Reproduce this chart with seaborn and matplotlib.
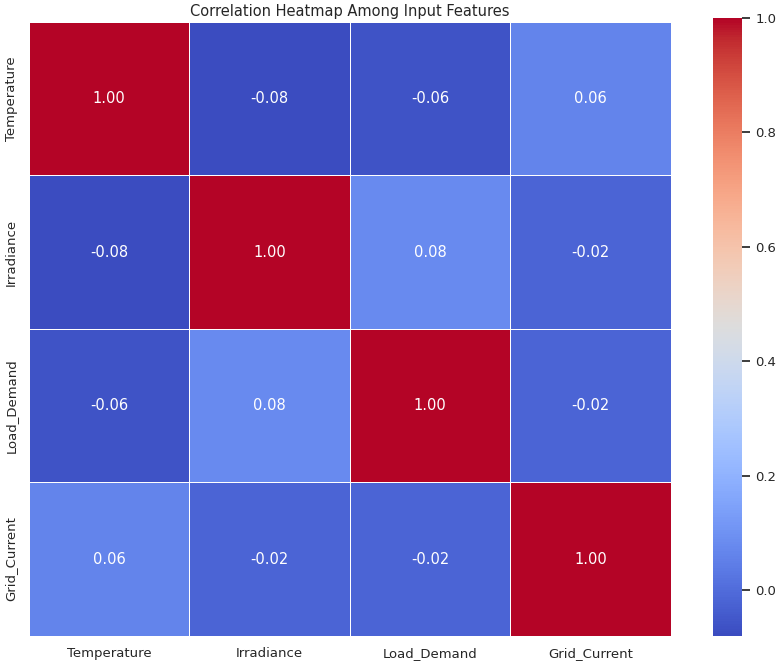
import numpy as np
import pandas as pd
import matplotlib
matplotlib.use('Agg')
import matplotlib.pyplot as plt
import seaborn as sns

# 特征名与相关系数
features = ['Temperature', 'Irradiance', 'Load_Demand', 'Grid_Current']
row_temperature = [1.00, -0.08, -0.06, 0.06]
row_irradiance = [-0.08, 1.00, 0.08, -0.02]
row_load = [-0.06, 0.08, 1.00, -0.02]
row_grid = [0.06, -0.02, -0.02, 1.00]

sns.set_theme(style='white')
plt.rcParams['font.family'] = ['DejaVu Sans']

corr = pd.DataFrame([row_temperature, row_irradiance, row_load, row_grid],
                    index=features, columns=features)

fig = plt.figure(figsize=(7.78, 6.65), dpi=100)
ax = fig.add_axes([0.037, 0.044, 0.825, 0.923])
cax = fig.add_axes([0.916, 0.044, 0.038, 0.929])

sns.heatmap(corr, annot=True, fmt='.2f', cmap='coolwarm', linewidths=0.5,
            linecolor='white', ax=ax, cbar_ax=cax,
            annot_kws={'fontsize': 10.5})

ax.set_title('Correlation Heatmap Among Input Features', fontsize=10.5, pad=4)
ax.tick_params(axis='both', labelsize=9.5, length=0, pad=8)
cax.tick_params(labelsize=9.5)

fig.savefig('out.png', dpi=100)
